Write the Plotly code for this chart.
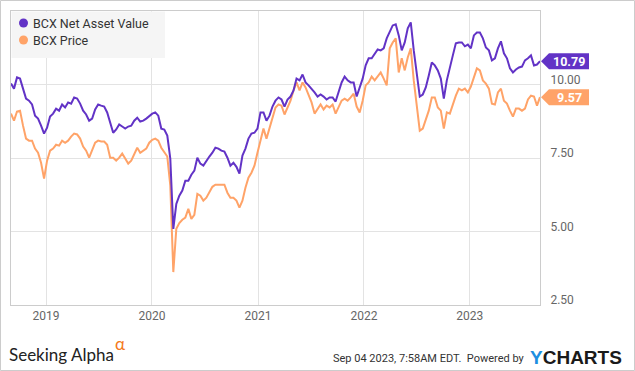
import pandas as pd
import plotly.graph_objects as go

# ---- data ----
start_date = "2018-09-02"
end_date = "2023-08-31"

nav_values = [
    10.03, 9.86, 10.24, 10.20, 9.86, 9.52, 9.45, 9.32, 8.94, 8.84,
    8.60, 8.33, 8.53, 8.91, 9.01, 9.18, 9.11, 9.32, 9.22, 9.39,
    9.35, 9.56, 9.52, 9.35, 9.11, 8.98, 8.77, 8.84, 9.15, 9.32,
    9.28, 9.25, 9.05, 8.70, 8.36, 8.47, 8.64, 8.57, 8.50, 8.57,
    8.60, 8.77, 8.87, 8.74, 8.77, 8.84, 8.94, 9.01, 9.05, 8.94,
    8.50, 8.47, 8.26, 7.48, 5.09, 5.94, 6.22, 6.39, 6.73, 6.73,
    6.93, 7.07, 7.51, 7.31, 7.24, 7.41, 7.55, 7.68, 7.85, 7.82,
    7.75, 7.72, 7.51, 7.24, 7.34, 7.20, 6.97, 7.58, 7.82, 8.16,
    8.33, 8.36, 8.50, 9.05, 9.05, 8.77, 8.94, 9.25, 9.45, 9.56,
    9.49, 9.25, 9.49, 9.59, 9.80, 10.20, 10.14, 10.34, 10.07, 9.97,
    9.86, 9.73, 9.59, 9.66, 9.59, 9.49, 9.56, 9.56, 9.42, 9.73,
    10.07, 10.27, 10.14, 10.07, 10.07, 9.59, 9.93, 10.20, 10.65, 10.89,
    10.89, 11.06, 11.19, 11.16, 11.23, 11.57, 11.81, 12.01, 12.05, 11.67,
    11.16, 11.43, 11.91, 12.11, 11.16, 10.41, 9.59, 9.66, 9.90, 10.31,
    10.75, 10.65, 10.48, 10.20, 9.52, 10.14, 10.61, 10.99, 11.40, 11.43,
    11.43, 11.30, 11.36, 11.23, 11.67, 11.77, 11.77, 11.57, 11.26, 11.16,
    10.82, 10.89, 11.23, 11.47, 11.06, 10.89, 10.55, 10.41, 10.51, 10.58,
    10.61, 10.82, 10.89, 10.99, 10.65, 10.68, 10.79,
]

price_values = [
    9.01, 8.77, 9.08, 9.11, 8.60, 8.16, 8.09, 8.09, 7.82, 7.68,
    7.34, 6.80, 7.41, 7.75, 7.82, 7.95, 7.92, 8.09, 8.02, 8.09,
    8.23, 8.33, 8.30, 8.16, 7.89, 7.75, 7.51, 7.75, 8.02, 8.09,
    8.06, 8.06, 7.95, 7.51, 7.51, 7.41, 7.51, 7.65, 7.48, 7.31,
    7.41, 7.61, 7.85, 7.68, 7.75, 7.82, 8.02, 8.12, 8.16, 8.09,
    7.85, 7.72, 7.55, 6.56, 3.62, 5.09, 5.29, 5.40, 5.47, 5.77,
    5.43, 5.57, 6.28, 6.22, 6.05, 6.15, 6.32, 6.52, 6.59, 6.59,
    6.59, 6.59, 6.32, 6.15, 6.15, 6.05, 5.81, 6.05, 6.49, 6.83,
    7.00, 7.24, 7.68, 8.09, 8.50, 8.16, 8.50, 8.87, 9.22, 9.32,
    9.28, 8.98, 9.22, 9.45, 9.80, 10.07, 9.80, 10.07, 9.90, 9.62,
    9.39, 9.01, 9.18, 9.32, 9.15, 9.28, 9.22, 9.32, 9.01, 9.22,
    9.45, 9.52, 9.45, 9.56, 9.69, 9.25, 9.05, 9.45, 9.97, 10.07,
    10.27, 10.14, 10.27, 10.41, 10.20, 9.97, 11.23, 11.43, 11.57, 10.41,
    10.89, 10.48, 10.92, 11.23, 10.14, 9.18, 8.43, 8.50, 8.84, 9.11,
    9.56, 9.56, 9.22, 9.11, 8.50, 9.05, 9.01, 9.35, 9.62, 9.86,
    9.80, 9.86, 9.73, 9.93, 10.24, 10.55, 10.48, 10.14, 10.03, 9.86,
    9.35, 9.32, 9.73, 9.86, 9.45, 9.35, 9.11, 8.91, 9.18, 9.18,
    9.11, 9.18, 9.49, 9.62, 9.59, 9.28, 9.57,
]

dates = pd.date_range(start_date, end_date, periods=len(nav_values))

nav_name = "BCX Net Asset Value"
price_name = "BCX Price"
y_ticks = [2.5, 5.0, 7.5, 10.0]
y_tick_text = ["2.50", "5.00", "7.50", "10.00"]

NAV_COLOR = "#6233c6"
PRICE_COLOR = "#ffa368"

# ---- figure ----
W, H = 635, 371
ML, MR, MT, MB = 11, 95, 11, 66
PW, PH = W - ML - MR, H - MT - MB


def px_x(px):
    return (px - ML) / PW


def px_y(py):
    return 1 - (py - MT) / PH


fig = go.Figure()
fig.add_trace(go.Scatter(x=dates, y=price_values, mode="lines", name=price_name,
                         line=dict(color=PRICE_COLOR, width=2), showlegend=False,
                         hoverinfo="skip"))
fig.add_trace(go.Scatter(x=dates, y=nav_values, mode="lines", name=nav_name,
                         line=dict(color=NAV_COLOR, width=2), showlegend=False,
                         hoverinfo="skip"))

fig.update_layout(
    width=W, height=H,
    margin=dict(l=ML, r=MR, t=MT, b=MB, pad=0),
    paper_bgcolor="white", plot_bgcolor="white",
    font=dict(family="Roboto", size=12, color="#666666"),
    showlegend=False,
)
fig.update_xaxes(
    range=[dates[0], dates[-1]],
    tickformat="%Y", dtick="M12", tick0="2019-01-01",
    showgrid=True, gridcolor="#e3e3e3", gridwidth=1,
    showline=True, linecolor="#cccccc", linewidth=1, mirror=True,
    ticks="", tickfont=dict(size=12, color="#666666"),
    zeroline=False,
)
fig.update_yaxes(
    side="right", range=[2.5, 12.5],
    tickvals=y_ticks, ticktext=y_tick_text,
    showgrid=True, gridcolor="#e3e3e3", gridwidth=1,
    showline=True, linecolor="#cccccc", linewidth=1, mirror=True,
    ticks="", ticklabelstandoff=7, ticklabelshift=-5,
    tickfont=dict(size=12, color="#666666"),
    zeroline=False,
)

shapes = []
annotations = []

# legend box
shapes.append(dict(type="rect", xref="paper", yref="paper", layer="above",
                   x0=px_x(11.5), x1=px_x(165), y0=px_y(58), y1=px_y(11.5),
                   fillcolor="#f5f5f5", line=dict(width=0)))
for name, color, py in [(nav_name, NAV_COLOR, 23), (price_name, PRICE_COLOR, 40)]:
    shapes.append(dict(type="circle", xref="paper", yref="paper", layer="above",
                       x0=px_x(19), x1=px_x(28), y0=px_y(py + 4.5), y1=px_y(py - 4.5),
                       fillcolor=color, line=dict(width=0)))
    annotations.append(dict(xref="paper", yref="paper", x=px_x(31), y=px_y(py),
                            xanchor="left", yanchor="middle", showarrow=False,
                            text=name, font=dict(family="Roboto", size=12.5, color="#333333")))

# last-value tags
unit = 10.0 / PH  # data units per pixel
for val, color in [(nav_values[-1], NAV_COLOR), (price_values[-1], PRICE_COLOR)]:
    half = 8 * unit
    shapes.append(dict(type="path", xref="paper", yref="y", layer="above",
                       path=(f"M {px_x(541)} {val} L {px_x(549)} {val + half} "
                             f"L {px_x(589)} {val + half} L {px_x(589)} {val - half} "
                             f"L {px_x(549)} {val - half} Z"),
                       fillcolor=color, line=dict(width=0)))
    annotations.append(dict(xref="paper", yref="y", x=px_x(569), y=val,
                            xanchor="center", yanchor="middle", showarrow=False,
                            text=f"<b>{val:.2f}</b>",
                            font=dict(family="Roboto", size=12.5, color="white")))

# outer border
shapes.append(dict(type="rect", xref="paper", yref="paper", layer="above",
                   x0=px_x(0.5), x1=px_x(634.5), y0=px_y(370.5), y1=px_y(0.5),
                   line=dict(color="#cccccc", width=1), fillcolor="rgba(0,0,0,0)"))

# footer
annotations.append(dict(xref="paper", yref="paper", x=px_x(7), y=px_y(354),
                        xanchor="left", yanchor="middle", showarrow=False,
                        text="Seeking Alpha",
                        font=dict(family="Lato", size=17, color="#222222")))
annotations.append(dict(xref="paper", yref="paper", x=px_x(113), y=px_y(343),
                        xanchor="left", yanchor="middle", showarrow=False,
                        text="α",
                        font=dict(family="Lato", size=17, color="#f47920")))
annotations.append(dict(xref="paper", yref="paper", x=px_x(527), y=px_y(358),
                        xanchor="right", yanchor="middle", showarrow=False,
                        text="Sep 04 2023, 7:58AM EDT.  Powered by",
                        font=dict(family="Roboto", size=11, color="#333333")))
annotations.append(dict(xref="paper", yref="paper", x=px_x(528), y=px_y(357),
                        xanchor="left", yanchor="middle", showarrow=False,
                        text="<span style='color:#1d8fe1'>Y</span>CHARTS",
                        font=dict(family="Liberation Sans", size=19, color="#1a1a1a",
                                  weight="bold")))

fig.update_layout(shapes=shapes, annotations=annotations)
fig.write_html("out.html",
               config={"displayModeBar": False, "staticPlot": True},
               post_script="document.body.style.margin='0';document.body.style.padding='0';")
